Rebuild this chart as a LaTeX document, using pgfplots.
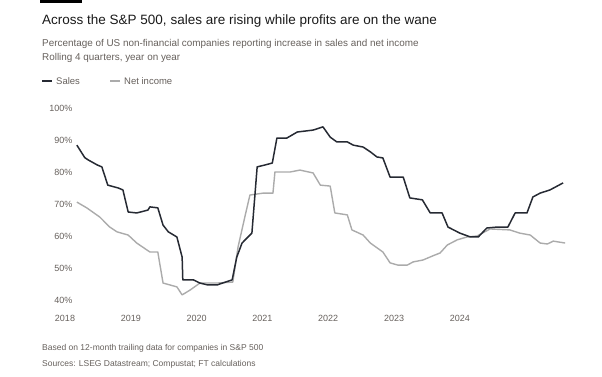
\documentclass[border=0pt]{standalone}
\usepackage{pgfplots}
\pgfplotsset{compat=1.18}
\usepackage{fontspec}
\setmainfont{Liberation Sans}
\definecolor{salescol}{HTML}{262A33}
\definecolor{netcol}{HTML}{ABABAB}
\definecolor{labcol}{HTML}{66605C}
\definecolor{titlecol}{HTML}{1A1A1A}
\begin{document}
\begin{tikzpicture}
\useasboundingbox (0pt,0pt) rectangle (602pt,-377pt);
\begin{scope}[x=1pt,y=1pt]
\fill[black] (40,0) rectangle (82,-3.5);
\node[anchor=base west, inner sep=0, text=titlecol, font=\fontsize{13.5}{16}\selectfont] at (42,-25) {Across the S\&P 500, sales are rising while profits are on the wane};
\node[anchor=base west, inner sep=0, text=labcol, font=\fontsize{9.9}{11}\selectfont] at (42,-47) {Percentage of US non-financial companies reporting increase in sales and net income};
\node[anchor=base west, inner sep=0, text=labcol, font=\fontsize{9.9}{11}\selectfont] at (42,-61) {Rolling 4 quarters, year on year};
\draw[salescol, line width=1.5pt] (42,-81) -- (52,-81);
\node[anchor=base west, inner sep=0, text=labcol, font=\fontsize{9.5}{11}\selectfont] at (56,-84.5) {Sales};
\draw[netcol, line width=1.5pt] (110,-81) -- (120,-81);
\node[anchor=base west, inner sep=0, text=labcol, font=\fontsize{9.5}{11}\selectfont] at (124,-84.5) {Net income};
\node[anchor=base west, inner sep=0, text=labcol, font=\fontsize{8.5}{10}\selectfont] at (42,-350) {Based on 12-month trailing data for companies in S\&P 500};
\node[anchor=base west, inner sep=0, text=labcol, font=\fontsize{8.5}{10}\selectfont] at (42,-366) {Sources: LSEG Datastream; Compustat; FT calculations};
\end{scope}
\begin{axis}[
  at={(55pt,-306.4pt)}, anchor=south west,
  scale only axis, width=520pt, height=204.8pt,
  xmin=2017.848, xmax=2025.75, ymin=38, ymax=102,
  axis line style={draw=none}, major tick length=0pt,
  xtick={2018,2019,2020,2021,2022,2023,2024},
  xticklabels={2018,2019,2020,2021,2022,2023,2024},
  ytick={40,50,60,70,80,90,100},
  yticklabel={\pgfmathprintnumber{\tick}\%},
  /pgf/number format/assume math mode=true,
  ticklabel style={font=\fontsize{9}{10}\selectfont, text=labcol},
  yticklabel style={anchor=east, xshift=21pt},
  xticklabel style={yshift=-5pt},
  clip=false,
]
\addplot[netcol, line width=1.4pt, line join=round] coordinates {
(2018.18,70.6) (2018.33,68.8) (2018.53,65.9) (2018.68,62.8) (2018.79,61.3) (2018.96,60.3)
(2019.09,57.8) (2019.29,55.0) (2019.41,55.0) (2019.49,45.3) (2019.70,44.1) (2019.78,41.6)
(2019.90,43.1) (2020.05,45.3) (2020.31,45.3) (2020.55,45.6) (2020.63,56.6) (2020.74,66.6)
(2020.81,72.8) (2021.01,73.4) (2021.16,73.4) (2021.19,80.0) (2021.42,80.0) (2021.57,80.6)
(2021.77,79.7) (2021.88,75.9) (2022.03,75.6) (2022.10,67.2) (2022.29,66.6) (2022.36,61.9)
(2022.53,60.3) (2022.64,57.8) (2022.83,55.0) (2022.94,51.6) (2023.06,50.9) (2023.20,50.9)
(2023.29,51.9) (2023.44,52.5) (2023.59,53.8) (2023.70,54.7) (2023.81,57.2) (2023.96,58.8)
(2024.11,59.7) (2024.26,60.0) (2024.46,62.2) (2024.76,61.9) (2024.91,60.9) (2025.07,60.3)
(2025.22,57.8) (2025.33,57.5) (2025.42,58.4) (2025.60,57.8)
};
\addplot[salescol, line width=1.5pt, line join=round] coordinates {
(2018.18,88.4) (2018.30,84.5) (2018.35,83.8) (2018.49,82.2) (2018.56,81.6) (2018.65,75.9)
(2018.81,75.0) (2018.88,74.4) (2018.96,67.5) (2019.09,67.2) (2019.26,68.1) (2019.29,69.1)
(2019.41,68.8) (2019.49,63.4) (2019.57,61.3) (2019.70,59.7) (2019.78,53.4) (2019.79,46.3)
(2019.95,46.3) (2020.05,45.3) (2020.17,44.7) (2020.31,44.7) (2020.54,46.3) (2020.61,53.4)
(2020.69,57.8) (2020.84,60.9) (2020.92,81.6) (2021.04,82.2) (2021.15,82.8) (2021.22,90.6)
(2021.37,90.6) (2021.53,92.5) (2021.77,93.1) (2021.92,94.1) (2022.03,90.9) (2022.13,89.4)
(2022.29,89.4) (2022.38,88.4) (2022.53,87.8) (2022.64,86.3) (2022.74,84.7) (2022.83,84.4)
(2022.94,78.4) (2023.14,78.4) (2023.24,71.9) (2023.43,71.3) (2023.55,67.2) (2023.73,67.2)
(2023.82,62.8) (2024.00,60.9) (2024.16,59.7) (2024.28,59.7) (2024.41,62.5) (2024.57,62.8)
(2024.73,62.8) (2024.84,67.2) (2025.02,67.2) (2025.11,72.2) (2025.22,73.4) (2025.37,74.4)
(2025.57,76.6)
};
\end{axis}
\end{tikzpicture}
\end{document}
